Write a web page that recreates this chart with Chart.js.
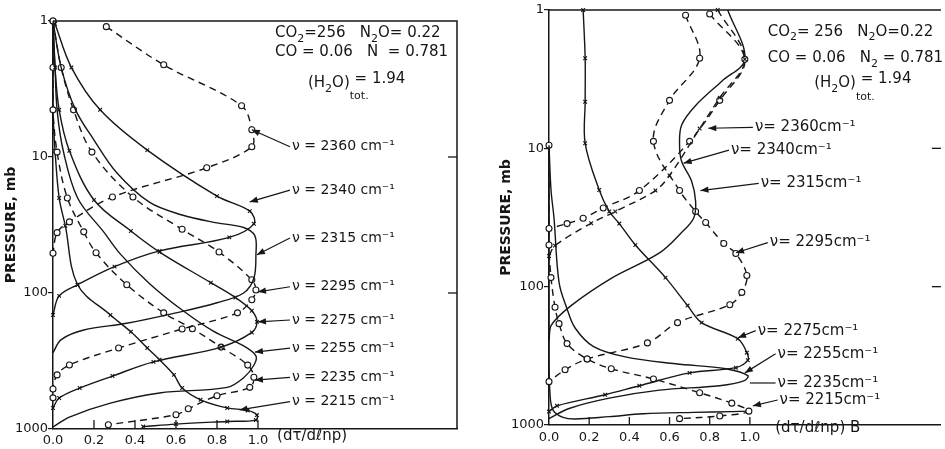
<!DOCTYPE html>
<html><head><meta charset="utf-8">
<script src="https://cdn.jsdelivr.net/npm/chart.js@4"></script>
<style>
html,body{margin:0;padding:0;background:#fff;width:945px;height:449px;overflow:hidden}
#cl{position:absolute;left:0;top:0}
#cr{position:absolute;left:470px;top:0}
</style></head><body>
<canvas id="cl" width="470" height="449"></canvas>
<canvas id="cr" width="475" height="449"></canvas>
<script>
// ---------------- data (x = dτ/dlnp, p = pressure in mb) ----------------
const freqs = ['2360','2340','2315','2295','2275','2255','2235','2215'];
const xTickValues = [0, 0.2, 0.4, 0.6, 0.8, 1.0];
const xTickLabels = ['0.0','0.2','0.4','0.6','0.8','1.0'];
const yTickValues = [1, 10, 100, 1000];
const yTickLabels = ['1','10','100','1000'];

// left panel: dτ/dlnp
const L2360 = [[0.26,1.1],[0.54,2.1],[0.92,4.2],[0.97,6.3],[0.97,8.4],[0.75,12],[0.29,19.7],[0.08,30],[0.02,36],[0.0,51]];
const L2340 = [[0.01,1.05],[0.09,2.2],[0.23,4.5],[0.46,8.9],[0.80,19.4],[0.96,25],[0.98,31],[0.86,39],[0.52,49],[0.30,64],[0.12,87],[0.03,105],[0.0,145]];
const L2315 = [[0.0,1.0],[0.04,2.2],[0.11,4.5],[0.20,7.5],[0.31,13],[0.47,21.5],[0.63,26.7],[0.80,30.5],[0.93,33],[0.985,38],[0.99,52],[0.98,78],[0.93,100],[0.80,118],[0.60,140],[0.36,167],[0.15,187],[0.04,220],[0.0,275]];
const L2295 = [[0.0,1.0],[0.04,2.2],[0.10,4.5],[0.19,9.2],[0.39,19.7],[0.63,34],[0.81,50],[0.97,80],[0.99,95],[0.97,112],[0.90,140],[0.63,184],[0.32,254],[0.08,338],[0.02,400],[0.0,508],[0.0,590]];
const L2275 = [[0.0,1.0],[0.01,2.2],[0.03,4.5],[0.08,9],[0.20,20.7],[0.38,35],[0.52,50],[0.77,84],[0.89,108],[0.97,135],[0.995,163],[0.97,195],[0.82,250],[0.49,321],[0.29,408],[0.13,500],[0.03,592],[0.0,700]];
const L2255 = [[0.0,1.0],[0.01,2.2],[0.02,4.5],[0.05,9],[0.12,20],[0.25,36],[0.33,52],[0.47,85],[0.62,130],[0.78,190],[0.93,245],[0.99,290],[0.98,340],[0.93,420],[0.85,494],[0.52,543],[0.28,645],[0.08,817],[0.0,967]];
const L2235 = [[0.0,1.0],[0.0,2.2],[0.0,4.5],[0.02,9.2],[0.07,20],[0.15,35.5],[0.21,50.6],[0.36,87],[0.54,140],[0.68,183],[0.82,250],[0.95,339],[0.98,416],[0.96,494],[0.80,570],[0.66,710],[0.60,785],[0.27,930]];
const L2215 = [[0.0,1.0],[0.0,4.5],[0.01,9],[0.03,20],[0.06,32],[0.12,87],[0.28,145],[0.38,193],[0.46,254],[0.52,310],[0.59,400],[0.63,500],[0.72,610],[0.85,700],[0.95,730],[0.995,790],[0.99,860],[0.85,880],[0.60,920],[0.44,960]];

// right panel: (dτ/dlnp)·B
const R2360 = [[0.84,1.0],[0.975,2.27],[0.85,4.3],[0.75,7.2],[0.60,15.7],[0.53,20.2],[0.33,28.6],[0.21,34.8],[0.03,50.5],[0.0,60]];
const R2340 = [[0.80,1.07],[0.975,2.27],[0.85,4.5],[0.70,8.9],[0.45,20.2],[0.27,27],[0.17,32],[0.09,35],[0.0,38]];
const R2315 = [[0.89,1.0],[0.975,2.27],[0.86,3.27],[0.73,4.9],[0.66,6.8],[0.65,9.5],[0.66,12.4],[0.71,17.3],[0.73,24.2],[0.72,32],[0.66,40.6],[0.55,57],[0.31,87],[0.11,137],[0.01,191],[0.0,250]];
const R2295 = [[0.68,1.09],[0.75,2.23],[0.60,4.5],[0.52,8.9],[0.65,20.2],[0.73,28.6],[0.78,34.4],[0.87,48.8],[0.93,57.6],[0.985,83],[0.96,110],[0.90,135],[0.64,182],[0.49,255],[0.19,333],[0.08,399],[0.0,486]];
const R2275 = [[0.17,1.0],[0.18,2.23],[0.18,4.6],[0.18,9.2],[0.25,20],[0.30,28.6],[0.35,35],[0.43,50],[0.58,86],[0.69,137],[0.76,182],[0.94,238],[0.985,300],[0.99,340],[0.93,385],[0.70,420],[0.45,520],[0.28,604],[0.04,727],[0.0,800]];
const R2255 = [[0.0,9.5],[0.01,20],[0.025,32],[0.05,93],[0.09,145],[0.13,199],[0.22,270],[0.38,322],[0.63,361],[0.88,392],[0.99,440],[0.97,480],[0.85,520],[0.55,560],[0.30,640],[0.10,760],[0.0,900]];
const R2235 = [[0.0,9.5],[0.0,50],[0.01,86],[0.03,141],[0.05,185],[0.09,258],[0.19,333],[0.31,392],[0.52,465],[0.75,585],[0.91,695],[0.995,794],[0.85,860],[0.65,900]];
const R2215 = [[0.0,9.5],[0.0,100],[0.0,300],[0.005,600],[0.02,780],[0.07,880],[0.13,905],[0.30,870],[0.47,830],[0.72,810],[0.91,800],[0.995,794]];

// ---------------- presentation ----------------
const FONT = '"DejaVu Sans", "Liberation Sans", sans-serif';
const INK = '#161616';

const leftStyles = [
  {d:L2360, dash:true, m:'o'}, {d:L2340, dash:false, m:'x'}, {d:L2315, dash:false, m:null},
  {d:L2295, dash:true, m:'o'}, {d:L2275, dash:false, m:'x'}, {d:L2255, dash:false, m:null},
  {d:L2235, dash:true, m:'o'}, {d:L2215, dash:false, m:'x'}];
const rightStyles = [
  {d:R2360, dash:true, m:'x'}, {d:R2340, dash:true, m:'o'}, {d:R2315, dash:false, m:null},
  {d:R2295, dash:true, m:'o'}, {d:R2275, dash:false, m:'x'}, {d:R2255, dash:false, m:null},
  {d:R2235, dash:true, m:'o'}, {d:R2215, dash:false, m:null}];

function ds(st, i) {
  return {
    label: freqs[i],
    data: st.d.map(([x, p]) => ({x, y: p})),
    showLine: true,
    borderColor: INK,
    borderWidth: 1.4,
    borderDash: st.dash ? [7, 5] : [],
    tension: 0.35,
    pointStyle: st.m === 'o' ? 'circle' : (st.m === 'x' ? 'crossRot' : false),
    pointRadius: st.m ? (st.m === 'o' ? 3 : 2.6) : 0,
    pointHoverRadius: 0,
    pointBackgroundColor: '#fff',
    pointBorderColor: INK,
    pointBorderWidth: 1.1,
    clip: 8
  };
}

function drawRich(ctx, parts, x, y, size) {
  let cx = x;
  for (const p of parts) {
    const small = p.s === 'sub' || p.s === 'low';
    const fs = small ? Math.round(size * 0.75) : size;
    ctx.font = `${fs}px ${FONT}`;
    let dy = 0;
    if (p.s === 'sub') dy = size * 0.38;
    if (p.s === 'low') dy = size * 0.9;
    if (p.s === 'up') dy = -size * 0.25;
    ctx.fillText(p.t, cx, y + dy);
    if (!p.stay) cx += ctx.measureText(p.t).width;
  }
}

function arrow(ctx, x1, y1, x2, y2, head) {
  ctx.beginPath(); ctx.moveTo(x1, y1); ctx.lineTo(x2, y2); ctx.stroke();
  if (!head) return;
  const a = Math.atan2(y2 - y1, x2 - x1), L = 8, W = 3.2;
  ctx.beginPath();
  ctx.moveTo(x2, y2);
  ctx.lineTo(x2 - L * Math.cos(a) + W * Math.sin(a), y2 - L * Math.sin(a) - W * Math.cos(a));
  ctx.lineTo(x2 - L * Math.cos(a) - W * Math.sin(a), y2 - L * Math.sin(a) + W * Math.cos(a));
  ctx.closePath(); ctx.fill();
}

const annotPlugin = {
  id: 'annot',
  afterDatasetsDraw(chart, args, o) {
    const {ctx, chartArea: a} = chart;
    const X = v => chart.scales.x.getPixelForValue(v);
    const Y = v => chart.scales.y.getPixelForValue(v);
    ctx.save();
    ctx.strokeStyle = INK; ctx.fillStyle = INK; ctx.lineWidth = 1.5;
    // frame
    ctx.beginPath(); ctx.moveTo(a.left, a.top); ctx.lineTo(a.right, a.top);
    if (o.rightBorder) ctx.lineTo(a.right, a.bottom);
    ctx.stroke();
    // inward x ticks
    ctx.lineWidth = 1.3;
    xTickValues.forEach(v => { if (v > 0) { ctx.beginPath(); ctx.moveTo(X(v), a.bottom); ctx.lineTo(X(v), a.bottom - o.tickLen); ctx.stroke(); } });
    // right-side ticks at 10 and 100
    [10, 100].forEach(v => { ctx.beginPath(); ctx.moveTo(a.right - 9, Y(v)); ctx.lineTo(a.right, Y(v)); ctx.stroke(); });
    // frequency labels with arrows
    ctx.textBaseline = 'middle'; ctx.textAlign = 'left';
    ctx.lineWidth = 1.2;
    o.labels.forEach((l, i) => {
      const tx = X(l.at[0]), ty = Y(l.at[1]);
      ctx.font = `${o.labelSize}px ${FONT}`;
      ctx.fillText(o.fmt(freqs[i]), tx, ty);
      arrow(ctx, tx - 2, ty, X(l.to[0]), Y(l.to[1]), l.head !== false);
    });
    // gas amounts block
    o.block.forEach(b => drawRich(ctx, b.parts, X(b.at[0]), Y(b.at[1]), o.blockSize));
    // x-axis title
    ctx.font = `${o.blockSize}px ${FONT}`;
    ctx.fillText(o.xTitle, X(o.xTitleAt), a.bottom + o.xTitleDy);
    ctx.restore();
  }
};

function makeChart(id, styles, cfg) {
  return new Chart(document.getElementById(id), {
    type: 'scatter',
    data: {datasets: styles.map(ds)},
    plugins: [annotPlugin],
    options: {
      responsive: false, animation: false, devicePixelRatio: 1,
      layout: {padding: cfg.pad},
      plugins: {legend: {display: false}, tooltip: {enabled: false}, annot: cfg.annot},
      scales: {
        x: {
          type: 'linear', min: 0, max: cfg.xMax,
          afterBuildTicks: s => { s.ticks = xTickValues.map(v => ({value: v})); },
          ticks: {callback: (v, i) => xTickLabels[i], font: {family: FONT, size: 13}, color: INK,
                  padding: cfg.xPad, maxRotation: 0, autoSkip: false},
          grid: {display: false, drawTicks: false, tickLength: 0},
          border: {display: true, color: INK, width: 1.5},
          afterFit: s => { s.height = cfg.xH; }
        },
        y: {
          type: 'logarithmic', reverse: true, min: 1, max: 1000,
          afterBuildTicks: s => { s.ticks = yTickValues.map(v => ({value: v})); },
          ticks: {callback: (v, i) => yTickLabels[i], font: {family: FONT, size: 13}, color: INK,
                  padding: 0, autoSkip: false},
          grid: {display: true, drawOnChartArea: false, drawTicks: true, tickLength: 5, color: INK, lineWidth: 1.2},
          border: {display: true, color: INK, width: 1.5},
          title: {display: true, text: 'PRESSURE, mb', color: INK,
                  font: {family: FONT, size: 14, weight: 'bold'}, padding: {top: 3, bottom: 0}},
          afterFit: s => { s.width = cfg.yW; }
        }
      }
    }
  });
}

const leftLabels = [
  {at:[1.166,8.4], to:[0.97,6.3]}, {at:[1.166,17.5], to:[0.96,21.4]},
  {at:[1.166,39.4], to:[0.995,52.4]}, {at:[1.166,90], to:[1.0,98]},
  {at:[1.166,158], to:[1.0,163]}, {at:[1.166,254], to:[0.985,272]},
  {at:[1.166,417], to:[0.985,437]}, {at:[1.166,630], to:[0.91,724]}];
const rightLabels = [
  {at:[1.025,7.05], to:[0.793,7.16]}, {at:[0.906,10.3], to:[0.67,12.8]},
  {at:[1.054,17.9], to:[0.754,20.2]}, {at:[1.099,48], to:[0.931,56.9]},
  {at:[1.039,208], to:[0.941,234]}, {at:[1.138,305], to:[0.975,420]},
  {at:[1.138,497], to:[1.0,497], head:false}, {at:[1.148,660], to:[1.015,727]}];

makeChart('cl', leftStyles, {
  pad: {left: 0, top: 21, right: 13, bottom: 0}, yW: 53, xH: 20, xPad: 4, xMax: 1.971,
  annot: {
    rightBorder: true, tickLen: 9, labelSize: 14, blockSize: 15,
    fmt: f => `ν = ${f} cm⁻¹`, labels: leftLabels,
    block: [
      {at:[1.083,1.23], parts:[{t:'CO'},{t:'2',s:'sub'},{t:'=256   N'},{t:'2',s:'sub'},{t:'O= 0.22'}]},
      {at:[1.083,1.69], parts:[{t:'CO = 0.06   N  = 0.781'}]},
      {at:[1.244,2.86], parts:[{t:'(H'},{t:'2',s:'sub'},{t:'O)'},{t:'tot.',s:'low',stay:true},{t:' = 1.94',s:'up'}]}
    ],
    xTitle: '(dτ/dℓnp)', xTitleAt: 1.093, xTitleDy: 7
  }
});

makeChart('cr', rightStyles, {
  pad: {left: 25, top: 10, right: 0, bottom: 0}, yW: 54, xH: 24, xPad: 5, xMax: 1.951,
  annot: {
    rightBorder: false, tickLen: 8, labelSize: 15, blockSize: 15,
    fmt: f => `ν= ${f}cm⁻¹`, labels: rightLabels,
    block: [
      {at:[1.089,1.44], parts:[{t:'CO'},{t:'2',s:'sub'},{t:'= 256   N'},{t:'2',s:'sub'},{t:'O=0.22'}]},
      {at:[1.089,2.23], parts:[{t:'CO = 0.06   N'},{t:'2',s:'sub'},{t:' = 0.781'}]},
      {at:[1.32,3.38], parts:[{t:'(H'},{t:'2',s:'sub'},{t:'O)'},{t:'tot.',s:'low',stay:true},{t:' = 1.94',s:'up'}]}
    ],
    xTitle: '(dτ/dℓnp) B', xTitleAt: 1.126, xTitleDy: 3
  }
});
</script>
</body></html>
